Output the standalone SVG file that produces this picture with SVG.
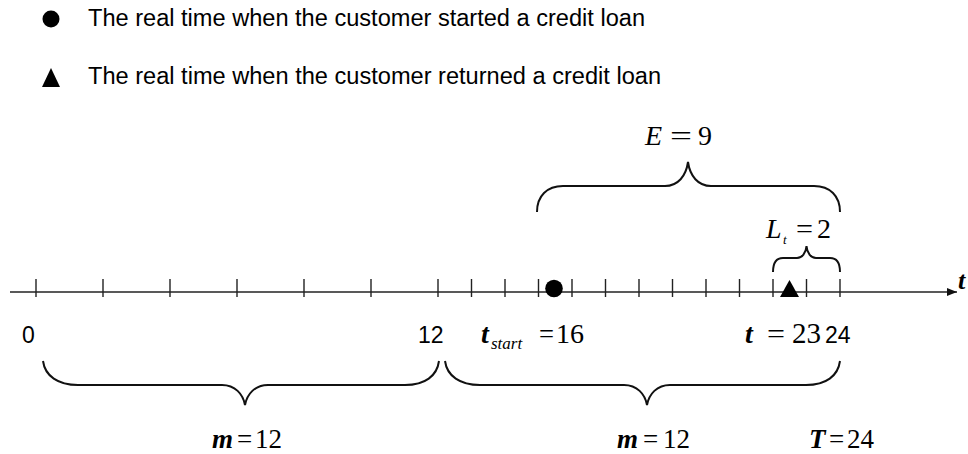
<svg xmlns="http://www.w3.org/2000/svg" width="968" height="454" viewBox="0 0 968 454">
<style>
.sans{font-family:"Liberation Sans",Arial,sans-serif;fill:#000}
.serif{font-family:"Liberation Serif","Times New Roman",serif;fill:#000}
.bi{font-weight:bold;font-style:italic}
.it{font-style:italic}
.tick{stroke:#222;stroke-width:1.4}
.brace{fill:none;stroke:#111;stroke-width:2}
</style>
<defs>
<marker id="arr" viewBox="0 0 10 8" refX="10" refY="4" markerWidth="10" markerHeight="8" markerUnits="userSpaceOnUse" orient="auto">
<path d="M0,0 L10,4 L0,8 Z" fill="#111"/>
</marker>
</defs>
<rect width="968" height="454" fill="#fff"/>
<g id="legend">
<circle cx="51" cy="19" r="8.5" fill="#000"/>
<text class="sans" x="88" y="26" font-size="23" textLength="557" lengthAdjust="spacingAndGlyphs">The real time when the customer started a credit loan</text>
<path d="M51,68 L60,87 L42,87 Z" fill="#000"/>
<text class="sans" x="88" y="83.5" font-size="23" textLength="573" lengthAdjust="spacingAndGlyphs">The real time when the customer returned a credit loan</text>
</g>
<g id="connectors">
<line x1="10" y1="292" x2="957" y2="292" stroke="#222" stroke-width="1.6" marker-end="url(#arr)"/>
<g id="ticks">
<line class="tick" x1="36" y1="279" x2="36" y2="297"/>
<line class="tick" x1="103" y1="279" x2="103" y2="297"/>
<line class="tick" x1="170" y1="279" x2="170" y2="297"/>
<line class="tick" x1="237" y1="279" x2="237" y2="297"/>
<line class="tick" x1="304" y1="279" x2="304" y2="297"/>
<line class="tick" x1="371" y1="279" x2="371" y2="297"/>
<line class="tick" x1="438" y1="279" x2="438" y2="297"/>
<line class="tick" x1="471.5" y1="279" x2="471.5" y2="297"/>
<line class="tick" x1="505" y1="279" x2="505" y2="297"/>
<line class="tick" x1="538.5" y1="279" x2="538.5" y2="297"/>
<line class="tick" x1="572" y1="279" x2="572" y2="297"/>
<line class="tick" x1="605.5" y1="279" x2="605.5" y2="297"/>
<line class="tick" x1="639" y1="279" x2="639" y2="297"/>
<line class="tick" x1="672.5" y1="279" x2="672.5" y2="297"/>
<line class="tick" x1="706" y1="279" x2="706" y2="297"/>
<line class="tick" x1="739.5" y1="279" x2="739.5" y2="297"/>
<line class="tick" x1="773" y1="279" x2="773" y2="297"/>
<line class="tick" x1="806.5" y1="279" x2="806.5" y2="297"/>
<line class="tick" x1="840" y1="279" x2="840" y2="297"/>
</g>
<g id="braces">
<path class="brace" d="M537,212 C537,196 547,186 563,186 L665,186 C678,186 686,176 688,162 C690,176 698,186 711,186 L814,186 C830,186 840,196 840,212"/>
<path class="brace" d="M773,272 C773,264 776,258 783,258 L797,258 C802,258 806,253 806.5,246 C807,253 811,258 816,258 L830,258 C837,258 840,264 840,272"/>
<path class="brace" d="M43,361 C45,376 58,385 78,385 L222,385 C235,385 243,394 245,405 C247,394 255,385 268,385 L405,385 C425,385 437,376 439,361"/>
<path class="brace" d="M445,361 C447,376 460,385 480,385 L624,385 C637,385 645,394 647,405 C649,394 657,385 670,385 L806,385 C826,385 838,376 840,361"/>
</g>
</g>
<g id="start-point">
<circle cx="554" cy="288.5" r="8.8" fill="#000"/>
</g>
<g id="return-point">
<path d="M789.5,280 L799,297 L780,297 Z" fill="#000"/>
</g>
<g id="axis-labels">
<text class="serif bi" x="958" y="289" font-size="26">t</text>
<text class="sans" x="22" y="343" font-size="23">0</text>
<text class="sans" x="418" y="343" font-size="23">12</text>
<text class="sans" x="825" y="343" font-size="23">24</text>
</g>
<g id="tstart-label">
<text class="serif" y="343" font-size="28"><tspan class="bi" x="481">t</tspan><tspan class="it" x="491" y="349" font-size="17">start</tspan><tspan x="539" y="343" textLength="15" lengthAdjust="spacingAndGlyphs">=</tspan><tspan x="556">16</tspan></text>
</g>
<g id="t-label">
<text class="serif" y="343" font-size="28"><tspan class="bi" x="745">t</tspan><tspan x="767" textLength="18" lengthAdjust="spacingAndGlyphs">=</tspan><tspan x="792" font-size="29">23</tspan></text>
</g>
<g id="E-label">
<text class="serif" y="145" font-size="28"><tspan class="it" x="645">E</tspan><tspan x="670" textLength="22" lengthAdjust="spacingAndGlyphs">=</tspan><tspan x="698">9</tspan></text>
</g>
<g id="Lt-label">
<text class="serif" y="238" font-size="28"><tspan class="it" x="766">L</tspan><tspan class="it" x="783" y="244" font-size="13">t</tspan><tspan x="796" y="238" textLength="17" lengthAdjust="spacingAndGlyphs">=</tspan><tspan x="817">2</tspan></text>
</g>
<g id="m-left-label">
<text class="serif" y="448" font-size="27"><tspan class="bi" x="212">m</tspan><tspan x="237">=</tspan><tspan x="255">12</tspan></text>
</g>
<g id="m-right-label">
<text class="serif" y="448" font-size="27"><tspan class="bi" x="617">m</tspan><tspan x="643">=</tspan><tspan x="663">12</tspan></text>
</g>
<g id="T-label">
<text class="serif" y="448" font-size="27"><tspan class="bi" x="809">T</tspan><tspan x="829">=</tspan><tspan x="847">24</tspan></text>
</g>
</svg>
